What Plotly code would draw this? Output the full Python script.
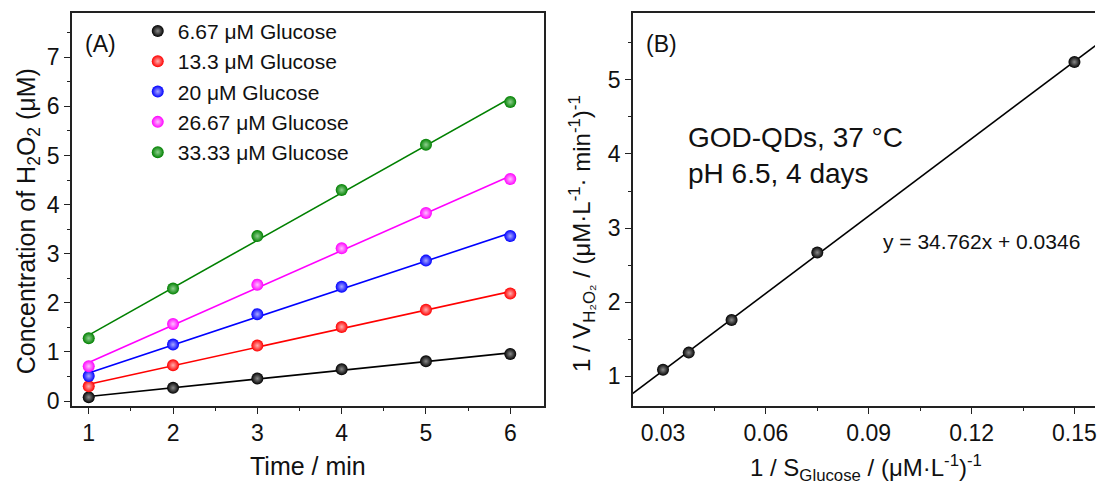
import numpy as np
import plotly.graph_objects as go

# ---- Panel A: H2O2 produced vs. time at several glucose levels ----
time_min = [1, 2, 3, 4, 5, 6]
glucose_labels = ["6.67 μM Glucose", "13.3 μM Glucose", "20 μM Glucose",
                  "26.67 μM Glucose", "33.33 μM Glucose"]
h2o2_6_67 = [0.08, 0.27, 0.46, 0.65, 0.81, 0.96]
h2o2_13_3 = [0.30, 0.73, 1.13, 1.51, 1.86, 2.19]
h2o2_20 = [0.51, 1.15, 1.77, 2.33, 2.86, 3.36]
h2o2_26_67 = [0.71, 1.57, 2.37, 3.11, 3.83, 4.52]
h2o2_33_33 = [1.28, 2.29, 3.36, 4.30, 5.22, 6.09]
series = [h2o2_6_67, h2o2_13_3, h2o2_20, h2o2_26_67, h2o2_33_33]
series_colors = ["#000000", "#FF0000", "#0000FF", "#FF00FF", "#008000"]
highlight_colors = ["#8a8a8a", "#ffb0b0", "#a8a8ff", "#ffc0ff", "#8fd08f"]

# ---- Panel B: Lineweaver-Burk plot ----
inv_glucose = [0.03, 0.0375, 0.05, 0.075, 0.15]
inv_rate = [1.09, 1.32, 1.76, 2.67, 5.24]
fit_slope = 34.762
fit_intercept = 0.0346

W, H = 1097, 493
FONT = "Liberation Sans, Arial, sans-serif"
AXIS_COLOR = "#222222"

fig = go.Figure()

# fitted lines (panel A), drawn below the markers
for vals, col in zip(series, series_colors):
    k, b = np.polyfit(time_min, vals, 1)
    xs = np.array([time_min[0], time_min[-1]], dtype=float)
    fig.add_trace(go.Scatter(x=xs, y=k * xs + b, mode="lines",
                             line=dict(color=col, width=1.6),
                             showlegend=False, hoverinfo="skip",
                             xaxis="x", yaxis="y"))

for i, (vals, col, hl, name) in enumerate(zip(series, series_colors,
                                                highlight_colors, glucose_labels)):
    fig.add_trace(go.Scatter(x=time_min, y=vals, mode="markers", name=name,
                             legendgroup=f"g{i}",
                             marker=dict(size=12, color=col,
                                         gradient=dict(type="radial", color=hl),
                                         line=dict(width=0)),
                             xaxis="x", yaxis="y"))

# panel B fit line from the stated equation
x_fit = np.array([0.018, 0.17])
fig.add_trace(go.Scatter(x=x_fit, y=fit_slope * x_fit + fit_intercept,
                         mode="lines", line=dict(color="#000000", width=1.6),
                         showlegend=False, hoverinfo="skip",
                         xaxis="x2", yaxis="y2"))
fig.add_trace(go.Scatter(x=inv_glucose, y=inv_rate, mode="markers",
                         showlegend=False,
                         marker=dict(size=12, color="#000000",
                                     gradient=dict(type="radial", color="#8a8a8a"),
                                     line=dict(width=0)),
                         xaxis="x2", yaxis="y2"))


def px_x(px):
    return px / W


def px_y(py):
    return 1 - py / H


y_dom = [px_y(412.7), px_y(13.3)]

axis_common = dict(showline=True, linecolor=AXIS_COLOR, linewidth=1.5,
                   ticks="outside", ticklen=6, tickwidth=1.3, tickcolor=AXIS_COLOR,
                   showgrid=False, zeroline=False, ticklabeloverflow="allow",
                   tickfont=dict(family=FONT, size=23, color="#111111"))
minor_common = dict(ticks="outside", ticklen=3, tickwidth=1.2,
                    tickcolor=AXIS_COLOR, showgrid=False)

fig.update_layout(
    width=W, height=H,
    margin=dict(l=0, r=0, t=0, b=0),
    paper_bgcolor="white", plot_bgcolor="white",
    font=dict(family=FONT, color="#111111"),
    xaxis=dict(domain=[px_x(72), px_x(545)], range=[0.8, 6.4], dtick=1, tick0=0,
               mirror=True, anchor="y",
               minor=dict(dtick=0.5, tick0=0, **minor_common), **axis_common),
    yaxis=dict(domain=y_dom, range=[-0.1, 7.9], dtick=1, tick0=0,
               mirror=True, anchor="x",
               minor=dict(dtick=0.5, tick0=0, **minor_common), **axis_common),
    xaxis2=dict(domain=[px_x(634), 1.0], range=[0.0212, 0.156], dtick=0.03,
                tick0=0, tickformat=".2f", mirror=True, anchor="y2",
                minor=dict(dtick=0.015, tick0=0, **minor_common), **axis_common),
    yaxis2=dict(domain=y_dom, range=[0.6, 5.9], dtick=1, tick0=0,
                mirror=False, anchor="x2",
                minor=dict(dtick=0.5, tick0=0, **minor_common), **axis_common),
    legend=dict(x=px_x(138), y=px_y(11), xanchor="left", yanchor="top",
                bgcolor="rgba(0,0,0,0)", tracegroupgap=0,
                font=dict(family=FONT, size=21, color="#111111")),
    showlegend=True,
)

ann = []


def add_text(text, x, y, size, rot=0, xanchor="center", align="center"):
    ann.append(dict(text=text, x=px_x(x), y=px_y(y), xref="paper", yref="paper",
                    showarrow=False, textangle=rot, xanchor=xanchor,
                    yanchor="middle", align=align,
                    font=dict(family=FONT, size=size, color="#111111")))


add_text("(A)", 101, 45, 23)
add_text("(B)", 663, 45, 23)
add_text("Time / min", 309, 474, 25)
add_text("Concentration of H<sub>2</sub>O<sub>2</sub> (μM)", 28, 225, 25, rot=-90)
add_text("1 / S<sub>Glucose</sub> / (μM·L<sup>-1</sup>)<sup>-1</sup>", 868, 476, 24)
add_text("1 / V<sub>H₂O₂</sub> / (μM·L<sup>-1</sup>· min<sup>-1</sup>)<sup>-1</sup>",
         583, 237, 24, rot=-90)
add_text("GOD-QDs, 37 °C<br>pH 6.5, 4 days", 687, 158, 28,
         xanchor="left", align="left")
add_text("y = 34.762x + 0.0346", 883, 245, 21, xanchor="left")

fig.update_layout(annotations=ann)

fig.write_html("out.html")
